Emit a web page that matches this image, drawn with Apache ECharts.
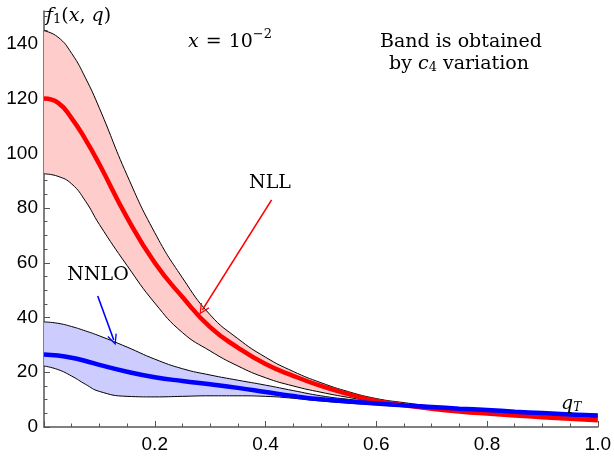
<!DOCTYPE html>
<html>
<head>
<meta charset="utf-8">
<script src="https://cdn.jsdelivr.net/npm/echarts@6/dist/echarts.min.js"></script>
<style>html,body{margin:0;padding:0;background:#fff}#c{width:614px;height:458px}</style>
</head>
<body>
<div id="c"></div>
<script>
// q_T grid
const qT = [0, 0.025, 0.05, 0.075, 0.1, 0.15, 0.2, 0.25, 0.3, 0.35, 0.4, 0.45, 0.5, 0.55, 0.6, 0.65, 0.7, 0.75, 0.8, 0.85, 0.9, 0.95, 1.0];
// NLL central and band (c4 variation)
const nll   = [120, 118.5, 112.8, 105, 96, 76.5, 60, 47.5, 36.5, 29, 23, 18.7, 15, 12, 9.5, 7.9, 6.7, 5.7, 4.9, 4.2, 3.6, 3.0, 2.5];
const nllHi = [144.8, 142.5, 136.5, 127.5, 116.5, 92, 71, 54.5, 41, 32.3, 25.5, 20.3, 16.2, 12.9, 10.4, 8.9, 7.7, 6.7, 5.9, 5.1, 4.5, 4.0, 3.5];
const nllLo = [92.5, 91.6, 88.8, 82.5, 74, 59, 45.3, 34.5, 27.8, 22.3, 18, 15, 12.7, 10.8, 9.1, 7.8, 6.7, 5.8, 5.0, 4.2, 3.5, 2.8, 2.2];
// NNLO central and band
const nnlo   = [26.5, 26.1, 25.3, 24.1, 22.7, 20.2, 18.2, 16.8, 15.6, 14.3, 12.8, 11.3, 10.1, 9.3, 8.6, 7.9, 7.3, 6.7, 6.2, 5.6, 5.1, 4.6, 4.2];
const nnloHi = [38.4, 37.9, 36.7, 35.1, 33.3, 29.2, 24.8, 21.3, 19.0, 17.1, 15.3, 13.3, 11.4, 10.1, 9.1, 8.3, 7.6, 7.0, 6.4, 5.9, 5.4, 5.0, 4.6];
const nnloLo = [22.3, 21.0, 18.6, 15.6, 13.0, 11.2, 11.0, 11.2, 11.4, 11.4, 11.2, 10.5, 9.5, 8.7, 8.1, 7.5, 6.9, 6.3, 5.8, 5.3, 4.8, 4.3, 3.9];
// annotation arrows [from, to] in data coords
const nllArrow  = [[0.411, 83], [0.286, 42.8]];
const nnloArrow = [[0.097, 47.9], [0.126, 31.8]];
// axis ticks
const xTicks = [0, 0.2, 0.4, 0.6, 0.8, 1.0];
const yTicks = [0, 20, 40, 60, 80, 100, 120, 140];

const pairs = arr => qT.map((x, i) => [x, arr[i]]);
// value first so the stack runs along y
const vq = arr => qT.map((x, i) => [arr[i], x]);
const diffVq = (hi, lo) => qT.map((x, i) => [hi[i] - lo[i], x]);
const chevron = 'path://M5 0 L10 10 L8.8 10.6 L5 2.6 L1.2 10.6 L0 10 Z';

const SMOOTH = 0.5;
function bandSeries(lo, hi, stack, color) {
  return [
    {type: 'line', data: vq(lo), encode: {x: 1, y: 0}, stack: stack, smooth: SMOOTH, showSymbol: false, silent: true,
     lineStyle: {opacity: 0}},
    {type: 'line', data: diffVq(hi, lo), encode: {x: 1, y: 0}, stack: stack, smooth: SMOOTH, showSymbol: false, silent: true,
     lineStyle: {opacity: 0}, areaStyle: {color: color, opacity: 1}}
  ];
}
function edge(arr) {
  return {type: 'line', data: pairs(arr), smooth: SMOOTH, showSymbol: false, silent: true,
          lineStyle: {color: '#000', width: 1}};
}
function arrow(a, color) {
  return {silent: true, symbol: ['none', chevron], symbolSize: [10, 11], label: {show: false},
          lineStyle: {color: color, width: 1.6, type: 'solid'},
          data: [[{coord: a[0]}, {coord: a[1]}]]};
}

const serif = 'DejaVu Serif';
const FS = 19;
const chart = echarts.init(document.getElementById('c'), null, {renderer: 'canvas'});
chart.setOption({
  animation: false,
  backgroundColor: '#fff',
  grid: {left: 44, right: 14, top: 11, bottom: 31, containLabel: false},
  xAxis: {
    type: 'value', min: 0, max: 1, interval: 0.2,
    axisLine: {show: true, onZero: false, lineStyle: {color: '#555', width: 1.5}},
    axisTick: {show: true, inside: true, length: 6, lineStyle: {color: '#555', width: 1}},
    minorTick: {show: true, splitNumber: 4, length: 3.5, lineStyle: {color: '#555', width: 1}},
    splitLine: {show: false},
    axisLabel: {margin: 8, color: '#000', fontFamily: 'Liberation Sans Narrow, Liberation Sans', fontSize: 19,
      formatter: v => (v === 0 ? '' : v.toFixed(1))}
  },
  yAxis: {
    type: 'value', min: 0, max: 152, interval: 20,
    axisLine: {show: true, onZero: false, lineStyle: {color: '#555', width: 1.5}},
    axisTick: {show: true, inside: true, length: 6, lineStyle: {color: '#555', width: 1}},
    minorTick: {show: true, splitNumber: 4, length: 3.5, lineStyle: {color: '#555', width: 1}},
    splitLine: {show: false},
    axisLabel: {margin: 6, color: '#000', fontFamily: 'Liberation Sans Narrow, Liberation Sans', fontSize: 19,
      showMaxLabel: false,
      formatter: v => (yTicks.indexOf(v) >= 0 ? String(v) : '')}
  },
  series: [
    ...bandSeries(nllLo, nllHi, 'nll', '#ffcccc'),
    ...bandSeries(nnloLo, nnloHi, 'nnlo', '#ccccff'),
    edge(nllHi), edge(nllLo), edge(nnloHi), edge(nnloLo),
    {type: 'line', data: pairs(nll), smooth: SMOOTH, showSymbol: false, silent: true,
     lineStyle: {color: '#ff0000', width: 4.5}, markLine: arrow(nllArrow, '#ff0000')},
    {type: 'line', data: pairs(nnlo), smooth: SMOOTH, showSymbol: false, silent: true,
     lineStyle: {color: '#0000ff', width: 4.5}, markLine: arrow(nnloArrow, '#0000ff')}
  ],
  graphic: [
    {type: 'text', left: 46, top: 7, z: 100, style: {
      text: '{i|f}{s|1}{n|(}{i|x}{n|, }{i|q}{n|)}',
      rich: {
        i: {fontFamily: serif, fontStyle: 'italic', fontSize: FS, fill: '#000', verticalAlign: 'bottom', lineHeight: 24},
        n: {fontFamily: serif, fontSize: FS, fill: '#000', verticalAlign: 'bottom', lineHeight: 24},
        s: {fontFamily: serif, fontSize: 13, fill: '#000', verticalAlign: 'bottom', lineHeight: 20}
      }}},
    {type: 'text', left: 188, top: 28, z: 100, style: {
      text: '{i|x}{e|=}{n|10}{p|−2}',
      rich: {
        i: {fontFamily: serif, fontStyle: 'italic', fontSize: FS, fill: '#000', verticalAlign: 'bottom', lineHeight: 24},
        e: {fontFamily: serif, fontSize: FS, fill: '#000', verticalAlign: 'bottom', lineHeight: 24, padding: [0, 7, 0, 7]},
        n: {fontFamily: serif, fontSize: FS, fill: '#000', verticalAlign: 'bottom', lineHeight: 24},
        p: {fontFamily: serif, fontSize: 13, fill: '#000', verticalAlign: 'top', lineHeight: 24}
      }}},
    {type: 'text', x: 461, y: 42, z: 100, style: {
      text: 'Band is obtained', fontFamily: serif, fontSize: FS, fill: '#000', align: 'center', verticalAlign: 'middle'}},
    {type: 'text', x: 459, y: 63, z: 100, style: {
      text: '{n|by }{i|c}{s|4}{n| variation}', align: 'center', verticalAlign: 'middle',
      rich: {
        i: {fontFamily: serif, fontStyle: 'italic', fontSize: FS, fill: '#000', verticalAlign: 'bottom', lineHeight: 22},
        n: {fontFamily: serif, fontSize: FS, fill: '#000', verticalAlign: 'bottom', lineHeight: 22},
        s: {fontFamily: serif, fontSize: 13, fill: '#000', verticalAlign: 'bottom', lineHeight: 18}
      }}},
    {type: 'text', x: 270, y: 183, z: 100, style: {
      text: 'NLL', fontFamily: serif, fontSize: FS, fill: '#000', align: 'center', verticalAlign: 'middle'}},
    {type: 'text', x: 98, y: 275, z: 100, style: {
      text: 'NNLO', fontFamily: serif, fontSize: FS, fill: '#000', align: 'center', verticalAlign: 'middle'}},
    {type: 'text', left: 561, top: 395, z: 100, style: {
      text: '{i|q}{s|T}',
      rich: {
        i: {fontFamily: serif, fontStyle: 'italic', fontSize: FS, fill: '#000', verticalAlign: 'bottom', lineHeight: 22},
        s: {fontFamily: serif, fontStyle: 'italic', fontSize: 12, fill: '#000', verticalAlign: 'bottom', lineHeight: 18}
      }}}
  ]
});
</script>
</body>
</html>
